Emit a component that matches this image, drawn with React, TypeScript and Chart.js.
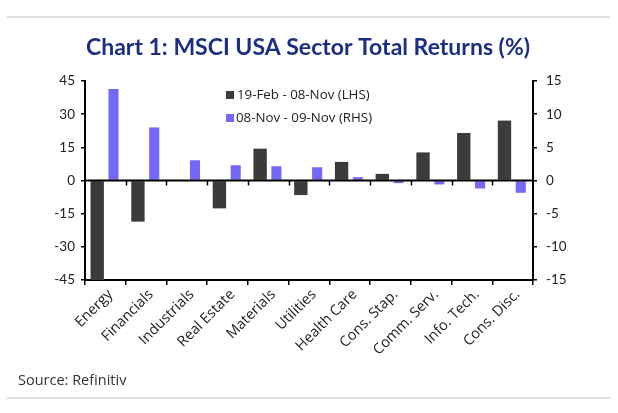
import React, { useEffect, useRef } from "react";
import { Chart, registerables } from "chart.js";

Chart.register(...registerables);

const categories = ["Energy", "Financials", "Industrials", "Real Estate", "Materials", "Utilities", "Health Care", "Cons. Stap.", "Comm. Serv.", "Info. Tech.", "Cons. Disc."];
const lhsValues = [-46, -18.6, 0, -12.6, 14.4, -6.6, 8.4, 3.0, 12.7, 21.5, 27.1];
const rhsValues = [13.8, 8.0, 3.05, 2.3, 2.15, 2.0, 0.5, -0.4, -0.6, -1.2, -1.85];
const lhsLabel = "19-Feb - 08-Nov (LHS)";
const rhsLabel = "08-Nov - 09-Nov (RHS)";
const titleText = "Chart 1: MSCI USA Sector Total Returns (%)";
const sourceText = "Source: Refinitiv";

const DARK = "#3b3b3b";
const BLUE = "#7469f7";
const FONT = "Lato, 'Open Sans', sans-serif";
const WIDE = "'Open Sans', Lato, sans-serif";

const decorPlugin = {
  id: "decor",
  afterDatasetsDraw(chart: any) {
    const { ctx, chartArea, scales } = chart;
    const y0 = scales.yL.getPixelForValue(0);
    ctx.save();
    ctx.strokeStyle = "#000";
    ctx.lineWidth = 2;
    ctx.beginPath();
    ctx.moveTo(chartArea.left, y0);
    ctx.lineTo(chartArea.right, y0);
    ctx.stroke();
    const n = categories.length;
    const w = (chartArea.right - chartArea.left) / n;
    ctx.lineWidth = 1.5;
    for (let i = 1; i < n; i++) {
      const x = Math.round(chartArea.left + i * w) + 0.5;
      ctx.beginPath();
      ctx.moveTo(x, y0);
      ctx.lineTo(x, y0 + 5);
      ctx.stroke();
    }
    ctx.restore();
  },
  afterDraw(chart: any) {
    const { ctx, width } = chart;
    ctx.save();
    ctx.strokeStyle = "#d4d4d4";
    ctx.lineWidth = 1.5;
    ctx.beginPath();
    ctx.moveTo(7, 17);
    ctx.lineTo(width - 8, 17);
    ctx.moveTo(7, 398);
    ctx.lineTo(width - 8, 398);
    ctx.stroke();
    ctx.fillStyle = "#1d2f83";
    ctx.font = "bold 23px " + FONT;
    ctx.textAlign = "center";
    ctx.textBaseline = "middle";
    ctx.fillText(titleText, 308, 48);
    ctx.fillStyle = "#333";
    ctx.font = "14.5px " + WIDE;
    ctx.textAlign = "left";
    ctx.fillText(sourceText, 18, 381);
    ctx.font = "13.3px " + WIDE;
    ctx.fillStyle = DARK;
    ctx.fillRect(226, 91, 8, 8);
    ctx.fillStyle = BLUE;
    ctx.fillRect(226, 114, 8, 8);
    ctx.fillStyle = "#222";
    ctx.fillText(lhsLabel, 237, 95.5);
    ctx.fillText(rhsLabel, 236, 118.5);
    ctx.restore();
  },
};

export default function App() {
  const ref = useRef<HTMLCanvasElement>(null);
  useEffect(() => {
    document.body.style.margin = "0";
    const chart = new Chart(ref.current as HTMLCanvasElement, {
      type: "bar",
      data: {
        labels: categories,
        datasets: [
          {
            label: lhsLabel,
            data: lhsValues,
            backgroundColor: DARK,
            yAxisID: "yL",
            barPercentage: 0.82,
            categoryPercentage: 0.8,
          },
          {
            label: rhsLabel,
            data: rhsValues,
            backgroundColor: BLUE,
            yAxisID: "yR",
            barPercentage: 0.62,
            categoryPercentage: 0.8,
          },
        ],
      },
      options: {
        responsive: false,
        animation: false,
        layout: { padding: { top: 81, left: 0, right: 0, bottom: 0 } },
        plugins: { legend: { display: false }, title: { display: false }, tooltip: { enabled: false } },
        scales: {
          x: {
            offset: true,
            grid: { offset: true, drawOnChartArea: false, drawTicks: true, tickLength: 5, color: "#000", lineWidth: 1.5 },
            border: { color: "#000", width: 2 },
            ticks: {
              autoSkip: false,
              minRotation: 45,
              maxRotation: 45,
              padding: 1,
              labelOffset: 5,
              color: "#222",
              font: { family: WIDE, size: 14.5 },
            },
            afterFit(scale: any) {
              scale.height = 133;
            },
          },
          yL: {
            position: "left",
            min: -45,
            max: 45,
            ticks: { stepSize: 15, color: "#222", padding: 6, font: { family: FONT, size: 13.5 } },
            grid: { drawOnChartArea: false, drawTicks: true, tickLength: 4, color: "#000", lineWidth: 1.5 },
            border: { color: "#000", width: 2 },
            afterFit(scale: any) {
              scale.width = 85;
            },
          },
          yR: {
            position: "right",
            min: -15,
            max: 15,
            ticks: { stepSize: 5, color: "#222", padding: 9, font: { family: FONT, size: 13.5 } },
            grid: { drawOnChartArea: false, drawTicks: true, tickLength: 4, color: "#000", lineWidth: 1.5 },
            border: { color: "#000", width: 2 },
            afterFit(scale: any) {
              scale.width = 85;
            },
          },
        },
      },
      plugins: [decorPlugin],
    });
    return () => chart.destroy();
  }, []);
  return <canvas ref={ref} width={618} height={413} style={{ display: "block" }} />;
}
